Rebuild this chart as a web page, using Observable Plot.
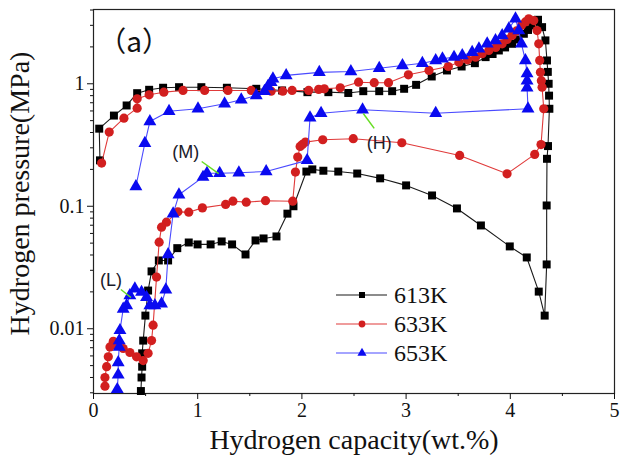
<!DOCTYPE html>
<html><head><meta charset="utf-8">
<script src="https://cdn.jsdelivr.net/npm/d3@7"></script>
<script src="https://cdn.jsdelivr.net/npm/@observablehq/plot@0.6"></script>
<style>body{margin:0;background:#fff}#chart{width:624px;height:466px}</style>
</head><body><div id="chart"></div>
<script>
// ---- data ----
const series = ["613K", "633K", "653K"];

const x613 = [0.062,0.055,0.196,0.318,0.419,0.534,0.668,0.821,1.035,1.28,1.562,1.81,2.053,2.254,2.445,2.589,2.742,2.866,2.981,3.096,3.246,3.392,3.533,3.66,3.763,3.83,3.89,3.95,4.017,4.07,4.13,4.17,4.21,4.245,4.266,4.305,4.337,4.352,4.36,4.368,4.372,4.375,4.362,4.352,
  4.349,4.349,4.33,4.273,4.158,3.995,3.718,3.488,3.249,3.0,2.751,2.531,2.349,2.206,2.1,2.043,1.919,1.861,1.756,1.632,1.555,1.459,1.33,1.23,1.124,0.999,0.914,0.804,0.716,0.627,0.557,0.524,0.498,0.477,0.467,0.467,0.461,0.455];
const y613 = [0.237,0.43,0.55,0.665,0.838,0.893,0.928,0.938,0.938,0.928,0.91,0.882,0.854,0.854,0.841,0.87,0.87,0.87,0.91,0.98,1.147,1.284,1.384,1.473,1.65,1.75,1.87,1.98,2.12,2.3,2.56,2.75,2.99,3.2,3.33,2.9,2.26,1.55,1.25,1.0,0.8,0.625,0.31,0.244,
  0.1015,0.0335,0.0128,0.0201,0.0382,0.047,0.0697,0.096,0.1225,0.148,0.169,0.185,0.192,0.195,0.2,0.192,0.1,0.087,0.0567,0.0546,0.0526,0.0404,0.0488,0.0516,0.0488,0.0488,0.0506,0.0455,0.0361,0.0361,0.0294,0.0205,0.0128,0.008,0.0063,0.0049,0.004,0.0031];

const x633 = [0.078,0.151,0.292,0.419,0.419,0.534,0.675,0.859,1.067,1.29,1.514,1.705,1.816,1.906,2.065,2.161,2.215,2.368,2.544,2.694,2.831,3.022,3.22,3.405,3.507,3.59,3.667,3.73,3.794,3.86,3.922,3.97,4.017,4.06,4.107,4.145,4.177,4.225,4.257,4.273,4.282,4.289,4.298,4.305,4.321,
  4.295,4.234,3.969,3.514,2.959,2.493,2.2,2.034,2.005,1.983,1.96,1.938,1.912,1.651,1.466,1.338,1.268,1.045,0.914,0.81,0.7,0.653,0.63,0.605,0.572,0.557,0.524,0.477,0.413,0.349,0.285,0.222,0.19,0.158,0.142,0.126,0.11,0.11];
const y633 = [0.225,0.403,0.524,0.632,0.754,0.813,0.854,0.882,0.882,0.882,0.882,0.87,0.87,0.882,0.882,0.9,0.91,0.928,1.03,1.02,1.02,1.184,1.284,1.384,1.5,1.57,1.65,1.76,1.87,1.98,2.12,2.3,2.48,2.7,2.99,3.2,3.39,3.28,2.72,2.12,1.55,1.24,1.06,0.938,0.625,
  0.319,0.265,0.184,0.26,0.33,0.356,0.349,0.334,0.32,0.308,0.252,0.19,0.11,0.111,0.108,0.11,0.1035,0.097,0.0895,0.09,0.0742,0.0675,0.0509,0.0264,0.0107,0.008,0.0063,0.0055,0.0059,0.0064,0.0069,0.0073,0.0079,0.0071,0.0059,0.0049,0.004,0.0034];

const x653 = [0.407,0.493,0.541,0.725,1.003,1.258,1.418,1.562,1.641,1.673,1.705,1.722,1.849,2.167,2.47,2.742,2.965,3.156,3.284,3.349,3.46,3.539,3.634,3.699,3.778,3.858,3.922,3.986,4.05,4.081,4.107,4.145,4.161,4.161,4.161,4.17,
  3.284,2.582,2.184,2.078,2.05,1.657,1.395,1.211,1.089,1.051,0.82,0.764,0.716,0.694,0.653,0.589,0.541,0.509,0.461,0.397,0.349,0.318,0.285,0.254,0.247,0.247,0.237,0.237,0.228];
const y653 = [0.145,0.327,0.492,0.597,0.625,0.687,0.74,0.803,0.87,0.95,1.03,1.1,1.17,1.24,1.26,1.34,1.41,1.47,1.55,1.6,1.65,1.7,1.81,1.93,2.12,2.26,2.48,2.81,3.39,2.72,2.12,1.55,1.21,1.06,0.928,0.625,
  0.575,0.613,0.575,0.528,0.237,0.192,0.188,0.186,0.186,0.173,0.124,0.0868,0.0404,0.0208,0.016,0.0155,0.0155,0.0181,0.0199,0.0212,0.0187,0.0155,0.0145,0.0097,0.008,0.0071,0.0053,0.0042,0.0032];

const xTicks = [0, 1, 2, 3, 4, 5];
const xMinor = [0.5, 1.5, 2.5, 3.5, 4.5];
const yTicks = [0.01, 0.1, 1];
const yMinor = [0.003,0.004,0.005,0.006,0.007,0.008,0.009,0.02,0.03,0.04,0.05,0.06,0.07,0.08,0.09,0.2,0.3,0.4,0.5,0.6,0.7,0.8,0.9,2,3,4];

const annoText = ["(L)", "(M)", "(H)"];
const annoX = [0.167, 0.885, 2.742];
const annoY = [0.0248, 0.275, 0.326];
const leadX1 = [0.263, 1.038, 2.694];
const leadY1 = [0.0209, 0.232, 0.432];
const leadX2 = [0.359, 1.201, 2.589];
const leadY2 = [0.018, 0.185, 0.572];

// ---- styles ----
const lineColor = {"613K": "#1a1a1a", "633K": "#e03a3a", "653K": "#4a4aff"};
const fillColor = {"613K": "#000000", "633K": "#d21f1f", "653K": "#0a0af0"};
const symbolOf = {"613K": "square", "633K": "circle", "653K": "triangle"};
const rOf = {"613K": 4.5, "633K": 4.6, "653K": 4.8};

const xs = {"613K": x613, "633K": x633, "653K": x653};
const ys = {"613K": y613, "633K": y633, "653K": y653};

const serif = "'Liberation Serif', 'Times New Roman', serif";

const seriesMarks = series.flatMap(s => {
  const d = xs[s].map((x, i) => ({x, y: ys[s][i]}));
  return [
    Plot.line(d, {x: "x", y: "y", stroke: lineColor[s], strokeWidth: 1.1}),
    Plot.dot(d, {x: "x", y: "y", symbol: symbolOf[s], r: rOf[s], fill: fillColor[s], stroke: "none"})
  ];
});

const annoData = annoText.map((t, i) => ({t, x: annoX[i], y: annoY[i], x1: leadX1[i], y1: leadY1[i], x2: leadX2[i], y2: leadY2[i]}));

const plot = Plot.plot({
  width: 624, height: 466,
  marginLeft: 93, marginRight: 10, marginTop: 9, marginBottom: 73,
  style: {fontFamily: serif, fontSize: "20px", color: "#111", background: "#fff"},
  x: {domain: [0, 5]},
  y: {type: "log", domain: [0.00296, 4.04]},
  marks: [
    Plot.frame({stroke: "#222", strokeWidth: 1.2}),
    Plot.axisX(xTicks, {anchor: "bottom", tickSize: 6, tickPadding: 3, tickFormat: d => String(d), label: null, fontSize: 20, fontFamily: serif}),
    Plot.axisX(xMinor, {anchor: "bottom", tickSize: 3, tickFormat: () => "", label: null}),
    Plot.axisY(yTicks, {anchor: "left", tickSize: 6, tickPadding: 3, tickFormat: d => String(d), label: null, fontSize: 20, fontFamily: serif}),
    Plot.axisY(yMinor, {anchor: "left", tickSize: 3, tickFormat: () => "", label: null}),
    Plot.text(["Hydrogen capacity(wt.%)"], {frameAnchor: "bottom", lineAnchor: "middle", dy: 47, fontSize: 28, fontFamily: serif, fill: "#111"}),
    Plot.text(["Hydrogen pressure(MPa)"], {frameAnchor: "left", textAnchor: "middle", lineAnchor: "middle", rotate: -90, dx: -73, dy: -8, fontSize: 28, fontFamily: serif, fill: "#111"}),
    ...seriesMarks,
    Plot.link(annoData, {x1: "x1", y1: "y1", x2: "x2", y2: "y2", stroke: "#66dd22", strokeWidth: 1.5}),
    Plot.text(annoData, {x: "x", y: "y", text: "t", fontSize: 18, fontFamily: "'Liberation Sans', Arial, sans-serif", fill: "#1a1a2a"}),
    Plot.text(["（a）"], {x: 0.39, y: 2.17, fontSize: 28, fontFamily: "'Noto Sans CJK SC', sans-serif", fill: "#111"})
  ]
});

document.getElementById("chart").appendChild(plot);

// ---- legend (inside plot area) ----
const svg = d3.select(plot);
const lg = svg.append("g").attr("class", "legend");
series.forEach((s, i) => {
  const yy = 295 + i * 29;
  lg.append("line").attr("x1", 336).attr("x2", 387).attr("y1", yy).attr("y2", yy)
    .attr("stroke", lineColor[s]).attr("stroke-width", 1.1);
  const sym = {square: d3.symbolSquare, circle: d3.symbolCircle, triangle: d3.symbolTriangle}[symbolOf[s]];
  lg.append("path").attr("transform", `translate(362,${yy})`)
    .attr("d", d3.symbol(sym, Math.PI * 3.4 * 3.4)())
    .attr("fill", fillColor[s]);
  lg.append("text").attr("x", 394).attr("y", yy).attr("dy", "0.35em")
    .attr("text-anchor", "start")
    .attr("font-size", 24).attr("fill", "#111")
    .attr("font-family", serif).text(s);
});
</script>
</body></html>
